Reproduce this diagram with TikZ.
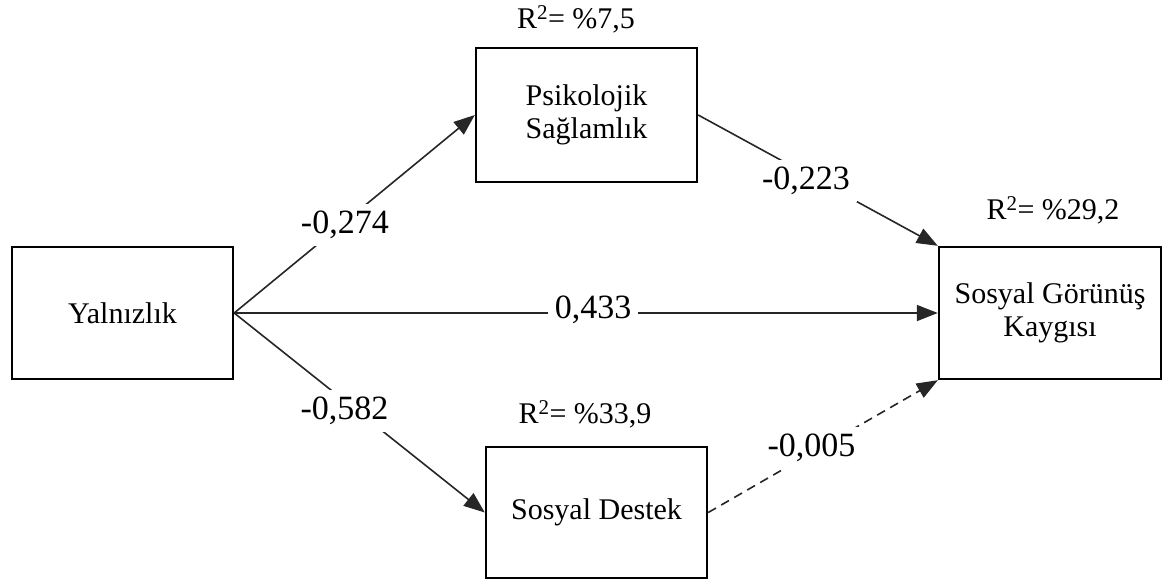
\documentclass[tikz,border=0pt]{standalone}
\usepackage{fontspec}
\setmainfont{Liberation Serif}
\usetikzlibrary{arrows.meta}
\tikzset{
  box/.style={draw=black, line width=2.4pt, fill=white, minimum width=221pt, minimum height=132pt, align=center, inner sep=0pt, font=\fontsize{30}{33}\selectfont},
  conn/.style={draw=black!85, line width=1.6pt, -{Triangle[length=21pt,width=16pt]}},
  elabel/.style={fill=white, inner sep=7pt, font=\fontsize{34}{36}\selectfont},
  rlabel/.style={inner sep=0pt, font=\fontsize{30}{32}\selectfont},
}
\begin{document}
\begin{tikzpicture}[x=1pt,y=-1pt]
\useasboundingbox (0,0) rectangle (1169,584);
\node[box] (Y) at (122.5,313) {Yalnızlık};
\node[box, minimum height=134pt] (P) at (586.5,115) {Psikolojik\\Sağlamlık};
\node[box, minimum width=222pt] (S) at (1050,313) {Sosyal Görünüş\\Kaygısı};
\node[box, minimum height=131pt] (D) at (596.5,512.5) {Sosyal Destek};

\node[rlabel] (rP) at (576,19) {R\textsuperscript{2}= \%7,5};
\node[rlabel] (rS) at (1053,210) {R\textsuperscript{2}= \%29,2};
\node[rlabel] (rD) at (585,414) {R\textsuperscript{2}= \%33,9};

\draw[conn] (Y.east) -- node[elabel, pos=0.46, yshift=-3pt] {-0,274} (P.west);
\draw[conn] (P.east) -- node[elabel, pos=0.45, yshift=-7pt] {-0,223} (S.north west);
\draw[conn] (Y.east) -- node[elabel, pos=0.51, yshift=3pt] {0,433} (S.west);
\draw[conn] (Y.east) -- node[elabel, pos=0.44, yshift=-10pt] {-0,582} (D.west);
\draw[conn, dash pattern=on 9pt off 6pt] (D.east) -- node[elabel, pos=0.45, yshift=5pt] {-0,005} (S.south west);
\end{tikzpicture}
\end{document}
